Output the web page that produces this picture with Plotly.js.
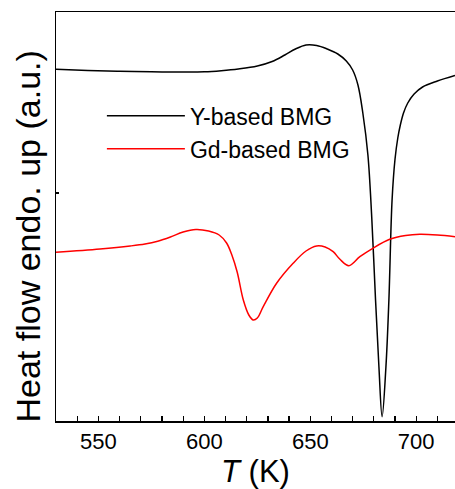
<!DOCTYPE html>
<html>
<head>
<meta charset="utf-8">
<script src="https://cdn.plot.ly/plotly-3.0.1.min.js"></script>
<style>html,body{margin:0;padding:0;background:#fff;}#chart{width:455px;height:489px;}</style>
</head>
<body>
<div id="chart"></div>
<script>
// Temperature (K) and heat flow (arbitrary units)
var tY = [530, 545, 560, 575, 590, 600, 608, 616, 625, 632, 638, 643, 648, 653, 658, 663, 667, 670, 672.5, 674.8, 677.2, 679, 680.8, 682.4, 683.9, 685.7, 687.1, 688.6, 690, 691.3, 692.5, 694, 696, 699, 703, 710, 718.3];
var yBased = [351.7, 350.5, 349.7, 349.2, 349, 349.2, 350.3, 352, 355, 359.5, 366, 372, 376, 375.5, 372, 367, 360, 351, 336, 308, 266, 204, 121, 54, 4.3, 54, 121, 221, 262, 283, 296, 308, 318, 327, 334, 340, 345.5];

var tGd = [530, 550.8, 565, 572, 578, 584, 590, 596, 602, 607, 610.5, 613, 615.5, 618.4, 621, 623.1, 625, 627.8, 634.1, 641.9, 648, 653, 657, 660.8, 664, 668.2, 673.4, 679.5, 687.5, 695, 701.7, 710, 718.3];
var gdBased = [168.7, 172, 175, 177, 179.8, 184, 189, 191.5, 190, 186, 178, 166, 149, 121, 106, 101, 103, 114.3, 137.7, 157.7, 170, 175, 174, 169.3, 161.7, 155.3, 164.3, 172.7, 181.7, 185.5, 186.7, 186, 184.3];

var seriesNames = ['Y-based BMG', 'Gd-based BMG'];
var xTickVals = [550, 600, 650, 700];
var yTickVals = [228];

var FONT = 'Arial, "Liberation Sans", sans-serif';

var traces = [
  {x: tY, y: yBased, name: seriesNames[0], type: 'scatter', mode: 'lines',
   line: {color: '#000000', width: 1.5, shape: 'spline', smoothing: 1}},
  {x: tGd, y: gdBased, name: seriesNames[1], type: 'scatter', mode: 'lines',
   line: {color: '#ff0000', width: 1.5, shape: 'spline', smoothing: 1}}
];

var layout = {
  width: 455, height: 489,
  margin: {l: 56, r: 0, t: 12, b: 68},
  paper_bgcolor: '#ffffff', plot_bgcolor: '#ffffff',
  font: {family: FONT, color: '#000000'},
  showlegend: true,
  legend: {x: 0.115, y: 0.7986, xanchor: 'left', yanchor: 'top',
           font: {family: FONT, size: 23, color: '#000'},
           bgcolor: 'rgba(0,0,0,0)', borderwidth: 0, itemwidth: 78},
  xaxis: {
    range: [530, 718.3], showgrid: false, zeroline: false,
    showline: true, linecolor: '#000', linewidth: 1.5, mirror: true,
    tickmode: 'array', tickvals: xTickVals, ticktext: xTickVals.map(String),
    ticks: 'inside', ticklen: 5, tickwidth: 1.2, tickcolor: '#000',
    minor: {dtick: 10, tick0: 530, ticks: 'inside', ticklen: 5, tickwidth: 1.2, tickcolor: '#000', showgrid: false},
    tickfont: {family: FONT, size: 22, color: '#000'},
    title: {text: '<i>T</i> (K)', font: {family: FONT, size: 31, color: '#000'}, standoff: 4}
  },
  yaxis: {
    range: [0, 409], showgrid: false, zeroline: false,
    showline: true, linecolor: '#000', linewidth: 1.5, mirror: false,
    tickmode: 'array', tickvals: yTickVals, showticklabels: false,
    ticks: 'inside', ticklen: 3, tickwidth: 1.2, tickcolor: '#000'
  },
  annotations: [{
    text: 'Heat flow endo. up (a.u.)', xref: 'paper', yref: 'paper',
    x: -56/399 + 27.5/399, y: (421 - 237)/409, xanchor: 'center', yanchor: 'middle',
    textangle: -90, showarrow: false,
    font: {family: FONT, size: 34, color: '#000'}
  }]
};

Plotly.newPlot('chart', traces, layout, {displayModeBar: false, staticPlot: true});
</script>
</body>
</html>
